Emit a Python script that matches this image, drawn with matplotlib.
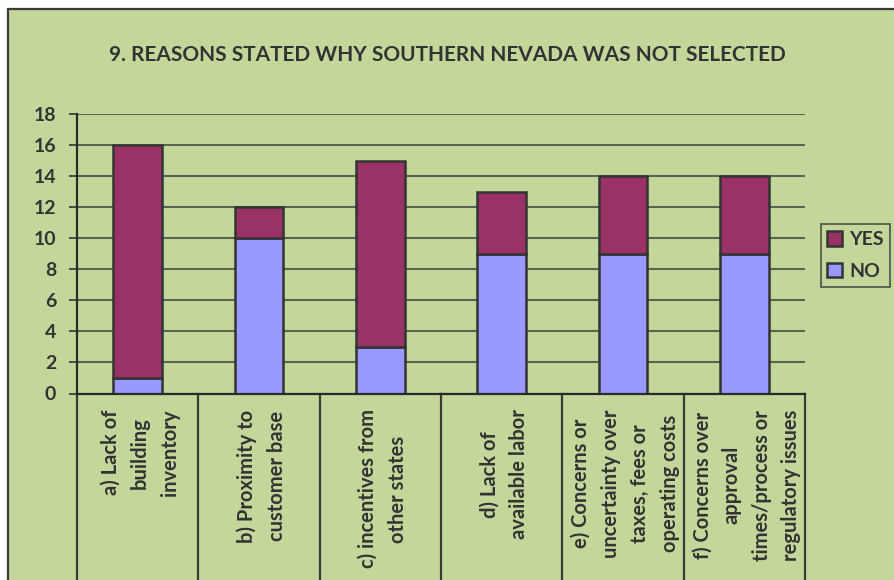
import matplotlib
matplotlib.use("Agg")
import matplotlib.pyplot as plt
import matplotlib.patches as mpatches
import matplotlib.transforms as mtransforms
import numpy as np

categories = [
    "a) Lack of\nbuilding\ninventory",
    "b) Proximity to\ncustomer base",
    "c) incentives from\nother states",
    "d) Lack of\navailable labor",
    "e) Concerns or\nuncertainty over\ntaxes, fees or\noperating costs",
    "f) Concerns over\napproval\ntimes/process or\nregulatory issues",
]
no_vals = [1, 10, 3, 9, 9, 9]
yes_vals = [15, 2, 12, 4, 5, 5]
yticks = [0, 2, 4, 6, 8, 10, 12, 14, 16, 18]
title = "9. REASONS STATED WHY SOUTHERN NEVADA WAS NOT SELECTED"

W, H = 894, 580
plt.rcParams['font.family'] = ['Lato', 'DejaVu Sans']
plt.rcParams['font.weight'] = 'bold'

green = '#C4D79B'
txt = '#333333'
fig = plt.figure(figsize=(W / 100, H / 100), dpi=100, facecolor='white')

# outer chart frame
frame = mpatches.Rectangle((8 / W, -0.1), 1.2, 1 - 9 / H + 0.1, transform=fig.transFigure,
                           facecolor=green, edgecolor='#3a3a3a', linewidth=1.6, zorder=-10)
fig.patches.append(frame)

ax = fig.add_axes([77 / W, 1 - 393.5 / H, (805 - 77) / W, (393.5 - 114) / H])
ax.set_zorder(2)
ax.set_facecolor('none')

x = np.arange(len(categories))
bw = 0.40
ax.bar(x, no_vals, bw, color='#9999FF', edgecolor='#333333', linewidth=1.8, label='NO', zorder=3)
ax.bar(x, yes_vals, bw, bottom=no_vals, color='#993366', edgecolor='#333333', linewidth=1.8,
       label='YES', zorder=3)

ax.set_xlim(-0.5, len(categories) - 0.5)
ax.set_ylim(0, 18)
ax.set_yticks(yticks)
ax.set_yticklabels([str(t) for t in yticks], fontsize=14, color=txt, fontweight='bold')
ax.yaxis.grid(True, color='#5a6452', linewidth=1.5, zorder=1)
ax.set_axisbelow(True)
ax.tick_params(axis='y', length=6, width=1.2, color='#333333', pad=9)
ax.set_xticks([])

for s in ['top', 'right']:
    ax.spines[s].set_visible(False)
for s in ['left', 'bottom']:
    ax.spines[s].set_color('#2a2a2a')
    ax.spines[s].set_linewidth(1.6)
    ax.spines[s].set_zorder(4)

# category dividers extending below axis
trans = mtransforms.blended_transform_factory(ax.transData, ax.transAxes)
ext = (H - 393.5) / (393.5 - 114)
for b in np.arange(-0.5, len(categories), 1.0):
    ax.plot([b, b], [0, -ext], transform=trans, color='#3a3a3a', linewidth=1.6, clip_on=False, zorder=4)

# category labels
for xi, lab in zip(x, categories):
    ax.text(xi + 0.02, -16 / (393.5 - 114), lab, transform=trans, rotation=90, ha='center', va='top',
            multialignment='center', fontsize=14.5, color=txt, fontweight='bold', linespacing=1.6)

fig.text(447 / W, 1 - 55 / H, title, ha='center', va='center', fontsize=15, color=txt, fontweight='bold')

handles, labels = ax.get_legend_handles_labels()
leg = fig.legend(handles[::-1], labels[::-1], loc='center', bbox_to_anchor=(855.5 / W, 1 - 255.5 / H),
                 frameon=True, handlelength=0.75, handleheight=0.75, handletextpad=0.35,
                 labelspacing=0.75, borderpad=0.35, borderaxespad=0, fancybox=False,
                 prop={'weight': 'bold', 'size': 14})
leg.get_frame().set_facecolor(green)
leg.get_frame().set_edgecolor('#3a3a3a')
leg.get_frame().set_linewidth(1.3)
for t in leg.get_texts():
    t.set_color(txt)

fig.savefig('out.png', dpi=100, facecolor='white')
